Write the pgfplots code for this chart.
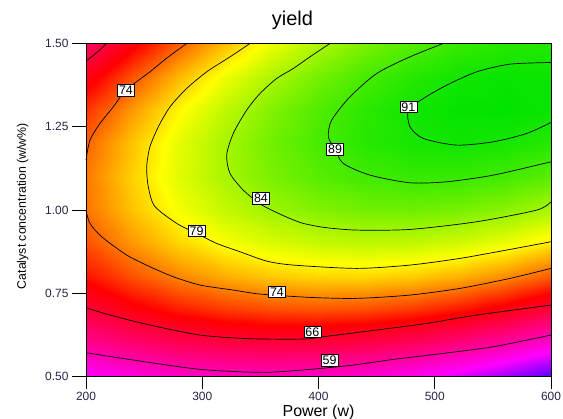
\documentclass[border=0pt]{standalone}
\usepackage{fontspec}
\setmainfont{Liberation Sans}
\usepackage{pgfplots}
\usepackage{pgfplotstable}
\pgfplotsset{compat=1.18}
\definecolor{tickc}{RGB}{35,40,70}
\pgfplotsset{contourline/.style={black, line width=0.7pt, smooth, tension=0.45, no marks},
  frame/.style={at={(86bp,42.3bp)}, anchor=south west, scale only axis, width=465bp, height=333.2bp,
  xmin=200, xmax=600, ymin=0.5, ymax=1.5}}
\newcommand{\clabel}[3]{\node[fill=white, draw=black, line width=0.5pt, inner sep=1.5pt, font=\fontsize{12.5}{13}\selectfont] at (axis cs:#1,#2) {#3};}
% P  C  yield  (grid)
\pgfplotstableread{
P C Y
200 0.5 53.85
200 0.6 60.35
200 0.7 65.61
200 0.8 69.63
200 0.9 72.41
200 1.0 73.95
200 1.1 74.25
200 1.2 73.31
200 1.3 71.13
200 1.4 67.71
200 1.5 63.05
240 0.5 55.64
240 0.6 62.49
240 0.7 68.09
240 0.8 72.46
240 0.9 75.59
240 1.0 77.48
240 1.1 78.13
240 1.2 77.53
240 1.3 75.70
240 1.4 72.63
240 1.5 68.32
280 0.5 56.87
280 0.6 64.06
280 0.7 70.02
280 0.8 74.73
280 0.9 78.21
280 1.0 80.45
280 1.1 81.44
280 1.2 81.20
280 1.3 79.71
280 1.4 76.99
280 1.5 73.03
320 0.5 57.54
320 0.6 65.08
320 0.7 71.38
320 0.8 76.45
320 0.9 80.27
320 1.0 82.86
320 1.1 84.20
320 1.2 84.30
320 1.3 83.17
320 1.4 80.79
320 1.5 77.18
360 0.5 57.65
360 0.6 65.54
360 0.7 72.19
360 0.8 77.60
360 0.9 81.78
360 1.0 84.71
360 1.1 86.40
360 1.2 86.85
360 1.3 86.06
360 1.4 84.04
360 1.5 80.77
400 0.5 57.20
400 0.6 65.44
400 0.7 72.44
400 0.8 78.20
400 0.9 82.72
400 1.0 86.00
400 1.1 88.04
400 1.2 88.84
400 1.3 88.40
400 1.4 86.72
400 1.5 83.80
440 0.5 56.20
440 0.6 64.78
440 0.7 72.13
440 0.8 78.24
440 0.9 83.11
440 1.0 86.74
440 1.1 89.12
440 1.2 90.27
440 1.3 90.18
440 1.4 88.85
440 1.5 86.28
480 0.5 54.63
480 0.6 63.57
480 0.7 71.26
480 0.8 77.72
480 0.9 82.94
480 1.0 86.91
480 1.1 89.65
480 1.2 91.14
480 1.3 91.40
480 1.4 90.42
480 1.5 88.19
520 0.5 52.51
520 0.6 61.79
520 0.7 69.84
520 0.8 76.64
520 0.9 82.21
520 1.0 86.53
520 1.1 89.61
520 1.2 91.46
520 1.3 92.06
520 1.4 91.43
520 1.5 89.55
560 0.5 49.83
560 0.6 59.46
560 0.7 67.85
560 0.8 75.01
560 0.9 80.92
560 1.0 85.59
560 1.1 89.02
560 1.2 91.21
560 1.3 92.17
560 1.4 91.88
560 1.5 90.35
600 0.5 46.59
600 0.6 56.57
600 0.7 65.31
600 0.8 72.81
600 0.9 79.07
600 1.0 84.09
600 1.1 87.87
600 1.2 90.41
600 1.3 91.71
600 1.4 91.77
600 1.5 90.59
}\yieldgrid
\begin{document}
\begin{tikzpicture}
\useasboundingbox (0bp,0bp) rectangle (563bp,419bp);
% colour surface
\begin{axis}[frame, hide axis,
  colormap={dx}{rgb255(0pt)=(80,0,255) rgb255(7.5pt)=(255,0,255) rgb255(22.5pt)=(255,0,0) rgb255(33.5pt)=(255,255,0) rgb255(45.7pt)=(0,228,0)},
  point meta min=46.5, point meta max=92.2]
\addplot[surf, shader=interp, mesh/ordering=y varies, mesh/rows=11, mesh/cols=11, point meta=explicit] table[x=P, y=C, meta=Y] {\yieldgrid};
\end{axis}
% frame, ticks, contours, labels
\begin{axis}[frame,
  xtick={200,300,400,500,600},
  ytick={0.5,0.75,1,1.25,1.5},
  /pgf/number format/assume math mode=true,
  tick align=outside, tick pos=left,
  major tick length=12bp,
  xtick style={draw=black, line width=0.9pt},
  ytick style={draw=black, line width=0.9pt},
  axis line style={black, line width=1pt},
  ticklabel style={font=\fontsize{12}{14}\selectfont, text=tickc},
  yticklabel style={/pgf/number format/fixed, /pgf/number format/fixed zerofill, /pgf/number format/precision=2, xshift=-2bp},
  clip=false,
  title={yield},
  title style={at={(axis description cs:0.444,1)}, anchor=base, yshift=12.5bp, font=\fontsize{20}{22}\selectfont},
  xlabel={Power (w)},
  xlabel style={at={(axis description cs:0.5,-0.075)}, anchor=north, font=\fontsize{16}{18}\selectfont},
  ylabel={Catalyst concentration (w/w\%)},
  ylabel style={at={(axis description cs:-0.116,0.512)}, anchor=south, font=\fontsize{12.4}{14}\selectfont},
]
\addplot[contourline] coordinates {(200,1.447) (209,1.472) (217.8,1.5)};
\addplot[contourline] coordinates {(200,1.150) (203.4,1.21) (212,1.260) (223.5,1.310) (234.4,1.360) (255,1.415) (269.4,1.456) (286.6,1.5)};
\addplot[contourline] coordinates {(200,1.0) (203.4,0.960) (213.5,0.920) (235,0.865) (255,0.830) (275.1,0.800) (298.1,0.775) (326.7,0.760) (349.7,0.748) (392.7,0.738) (432.9,0.735) (478.7,0.745) (521.7,0.765) (564.7,0.795) (600,0.825)};
\addplot[contourline] coordinates {(341,1.5) (323.9,1.460) (303.8,1.415) (286.6,1.365) (272.3,1.310) (262.2,1.250) (255,1.190) (252.2,1.130) (253.6,1.070) (259,1.012) (278,0.960) (295.2,0.930) (312.4,0.900) (332.5,0.875) (355.4,0.847) (378.3,0.835) (432.9,0.825) (478.7,0.835) (521.7,0.855) (564.7,0.882) (600,0.905)};
\addplot[contourline] coordinates {(409.9,1.5) (392.7,1.460) (378.3,1.425) (364,1.395) (349.7,1.350) (338.2,1.300) (326.7,1.230) (321,1.165) (323.9,1.110) (335.3,1.060) (350,1.018) (366.9,0.988) (385,0.962) (405,0.948) (432.9,0.940) (478.7,0.942) (536,0.965) (587.7,1.0) (600,1.025)};
\addplot[contourline] coordinates {(507.4,1.5) (478.7,1.460) (450.1,1.410) (427.1,1.340) (411.3,1.270) (408.5,1.220) (414.2,1.183) (421.3,1.140) (444.3,1.105) (478.7,1.082) (510.3,1.085) (550.4,1.105) (600,1.145)};
\addplot[contourline] coordinates {(600,1.443) (564.7,1.438) (536.1,1.415) (510.3,1.375) (490.2,1.335) (477.3,1.300) (478.7,1.250) (490.2,1.215) (518.8,1.195) (550.4,1.205) (579.1,1.230) (600,1.263)};
\addplot[contourline] coordinates {(200,0.707) (220.6,0.685) (255,0.655) (298.1,0.625) (341,0.614) (387,0.613) (404.2,0.620) (450,0.640) (493.1,0.660) (536.1,0.685) (600,0.715)};
\addplot[contourline] coordinates {(200,0.572) (240.7,0.550) (298.1,0.522) (352,0.513) (392.7,0.522) (430,0.535) (464.4,0.552) (507.4,0.570) (550.4,0.590) (600,0.625)};

\clabel{234.4}{1.36}{74}
\clabel{477.3}{1.31}{91}
\clabel{414.2}{1.183}{89}
\clabel{350.5}{1.035}{84}
\clabel{295.2}{0.938}{79}
\clabel{364.3}{0.755}{74}
\clabel{394.7}{0.635}{66}
\clabel{409.6}{0.549}{59}

\pgfplotsinvokeforeach{0,0.25,0.5,0.75,1}{\draw[black, line width=0.9pt] (axis description cs:#1,0) -- (axis description cs:#1,-0.033);}
\pgfplotsinvokeforeach{0,0.25,0.5,0.75,1}{\draw[black, line width=0.9pt] (axis description cs:0,#1) -- (axis description cs:-0.0301,#1);}
\end{axis}
\end{tikzpicture}
\end{document}
